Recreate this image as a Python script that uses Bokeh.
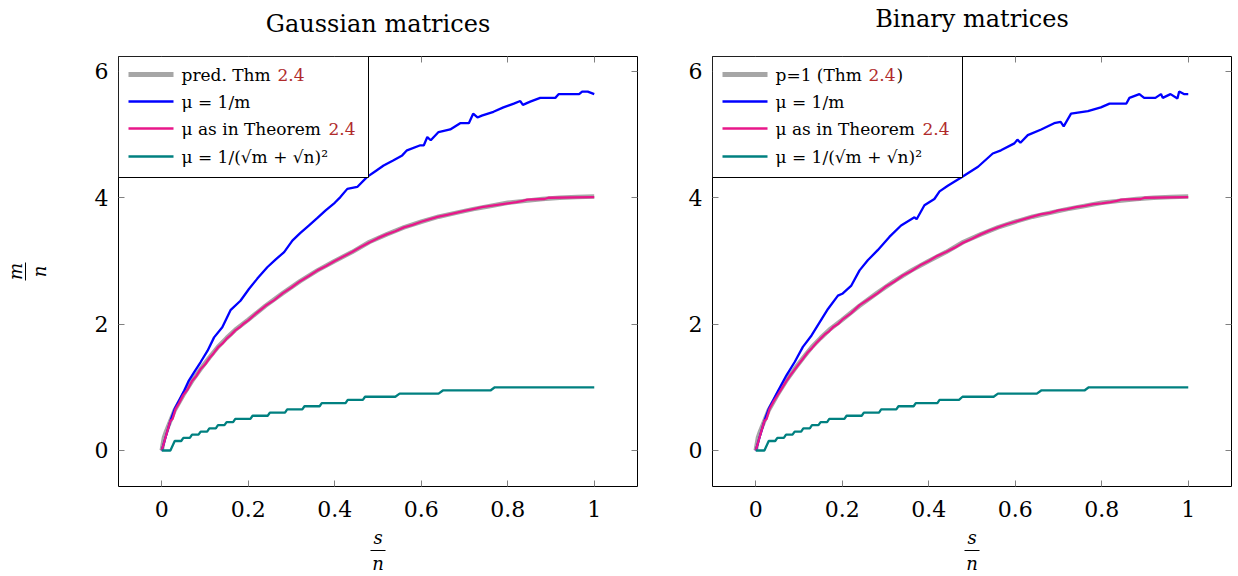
import math
from bokeh.plotting import figure
from bokeh.layouts import row
from bokeh.models import Range1d, LinearAxis, FixedTicker, Label, BoxAnnotation, CustomJSTickFormatter
from bokeh.embed import file_html
from bokeh.resources import INLINE

# ---------------- data ----------------
x_ticks = [0, 0.2, 0.4, 0.6, 0.8, 1]
y_ticks = [0, 2, 4, 6]

# predicted curve (Thm 2.4), same in both panels
pred_s = [0, 0.005, 0.01, 0.02, 0.03, 0.05, 0.07, 0.09, 0.11, 0.13, 0.15, 0.17, 0.2, 0.24, 0.28,
          0.32, 0.36, 0.4, 0.44, 0.48, 0.52, 0.56, 0.6, 0.64, 0.68, 0.72, 0.76, 0.8, 0.84, 0.88,
          0.92, 0.96, 1.0]
pred_m = [0, 0.2, 0.3, 0.47, 0.64, 0.88, 1.1, 1.29, 1.47, 1.64, 1.78, 1.91, 2.07, 2.29, 2.49,
          2.68, 2.85, 3.0, 3.14, 3.3, 3.42, 3.53, 3.62, 3.7, 3.76, 3.82, 3.87, 3.92, 3.95, 3.98,
          4.0, 4.01, 4.02]

# mu = 1/m
blue_gauss = [(0, 0), (0.02, 0.47), (0.03, 0.66), (0.04, 0.79), (0.052, 0.95), (0.063, 1.11),
              (0.075, 1.24), (0.09, 1.4), (0.106, 1.58), (0.121, 1.79), (0.14, 1.95), (0.159, 2.22),
              (0.182, 2.37), (0.202, 2.56), (0.221, 2.72), (0.244, 2.9), (0.263, 3.02), (0.283, 3.14),
              (0.302, 3.32), (0.32, 3.44), (0.34, 3.56), (0.36, 3.68), (0.379, 3.8), (0.4, 3.92),
              (0.413, 4.01), (0.429, 4.14), (0.452, 4.17), (0.475, 4.33), (0.494, 4.42), (0.513, 4.51),
              (0.535, 4.59), (0.556, 4.67), (0.567, 4.75), (0.598, 4.83), (0.606, 4.83), (0.614, 4.96),
              (0.622, 4.91), (0.64, 5.04), (0.667, 5.08), (0.69, 5.18), (0.71, 5.18), (0.72, 5.33),
              (0.73, 5.27), (0.74, 5.3), (0.767, 5.36), (0.79, 5.43), (0.814, 5.49), (0.829, 5.53),
              (0.835, 5.47), (0.852, 5.52), (0.875, 5.58), (0.91, 5.58), (0.918, 5.64), (0.965, 5.64),
              (0.972, 5.68), (0.985, 5.68), (1.0, 5.64)]
blue_binary = [(0, 0), (0.02, 0.47), (0.03, 0.66), (0.04, 0.79), (0.052, 0.95), (0.071, 1.19),
               (0.09, 1.4), (0.109, 1.64), (0.129, 1.82), (0.148, 2.03), (0.167, 2.24), (0.19, 2.45),
               (0.2, 2.48), (0.221, 2.61), (0.24, 2.85), (0.259, 3.01), (0.282, 3.17), (0.309, 3.38),
               (0.336, 3.56), (0.367, 3.69), (0.372, 3.66), (0.39, 3.88), (0.413, 3.98), (0.425, 4.1),
               (0.444, 4.19), (0.475, 4.32), (0.514, 4.49), (0.548, 4.7), (0.567, 4.75), (0.598, 4.86),
               (0.605, 4.92), (0.612, 4.87), (0.629, 4.99), (0.66, 5.08), (0.69, 5.18), (0.705, 5.2),
               (0.712, 5.13), (0.729, 5.33), (0.768, 5.37), (0.798, 5.43), (0.818, 5.49), (0.857, 5.49),
               (0.864, 5.58), (0.887, 5.64), (0.898, 5.58), (0.924, 5.58), (0.937, 5.64), (0.941, 5.58),
               (0.959, 5.64), (0.975, 5.57), (0.979, 5.68), (0.99, 5.64), (1.0, 5.64)]

# mu as in Theorem 2.4
pink_gauss = [(0, 0), (0.02, 0.47), (0.025, 0.5), (0.032, 0.66), (0.04, 0.75), (0.05, 0.88),
              (0.06, 0.97), (0.07, 1.1), (0.08, 1.18), (0.09, 1.29), (0.1, 1.36), (0.11, 1.46),
              (0.12, 1.54), (0.13, 1.63), (0.14, 1.69), (0.15, 1.77), (0.16, 1.83), (0.17, 1.9),
              (0.18, 1.95), (0.19, 2.01), (0.2, 2.06), (0.22, 2.18), (0.24, 2.29), (0.26, 2.38),
              (0.28, 2.49), (0.3, 2.58), (0.32, 2.68), (0.34, 2.76), (0.36, 2.85), (0.38, 2.92),
              (0.4, 3.0), (0.42, 3.07), (0.44, 3.14), (0.46, 3.22), (0.48, 3.29), (0.5, 3.36),
              (0.52, 3.42), (0.54, 3.47), (0.56, 3.53), (0.58, 3.57), (0.6, 3.62), (0.62, 3.66),
              (0.64, 3.7), (0.66, 3.73), (0.68, 3.76), (0.7, 3.79), (0.72, 3.82), (0.74, 3.85),
              (0.76, 3.87), (0.78, 3.89), (0.8, 3.91), (0.82, 3.93), (0.835, 3.95), (0.845, 3.97),
              (0.885, 3.98), (0.895, 4.0), (1.0, 4.01)]
pink_binary = [(0, 0), (0.02, 0.47), (0.025, 0.5), (0.032, 0.66), (0.04, 0.76), (0.05, 0.87),
               (0.06, 0.98), (0.07, 1.09), (0.08, 1.19), (0.09, 1.28), (0.1, 1.37), (0.11, 1.46),
               (0.12, 1.55), (0.13, 1.62), (0.14, 1.7), (0.15, 1.77), (0.16, 1.84), (0.17, 1.89),
               (0.18, 1.96), (0.19, 2.0), (0.2, 2.07), (0.22, 2.17), (0.24, 2.3), (0.26, 2.39),
               (0.28, 2.48), (0.3, 2.59), (0.32, 2.67), (0.34, 2.77), (0.36, 2.84), (0.38, 2.93),
               (0.4, 3.0), (0.42, 3.08), (0.44, 3.14), (0.46, 3.21), (0.48, 3.29), (0.5, 3.35),
               (0.52, 3.42), (0.54, 3.48), (0.56, 3.53), (0.58, 3.58), (0.6, 3.62), (0.62, 3.66),
               (0.64, 3.7), (0.66, 3.74), (0.68, 3.76), (0.7, 3.8), (0.72, 3.82), (0.74, 3.85),
               (0.76, 3.87), (0.78, 3.9), (0.8, 3.91), (0.82, 3.93), (0.835, 3.95), (0.845, 3.97),
               (0.89, 3.98), (0.9, 4.0), (1.0, 4.01)]

# mu = 1/(sqrt(m)+sqrt(n))^2
teal_gauss = [(0, 0), (0.02, 0), (0.03, 0.15), (0.045, 0.15), (0.05, 0.2), (0.065, 0.2), (0.07, 0.25),
              (0.085, 0.25), (0.09, 0.3), (0.105, 0.3), (0.11, 0.35), (0.125, 0.35), (0.13, 0.4),
              (0.145, 0.4), (0.15, 0.45), (0.165, 0.45), (0.17, 0.5), (0.205, 0.5), (0.21, 0.55),
              (0.245, 0.55), (0.25, 0.6), (0.285, 0.6), (0.29, 0.65), (0.325, 0.65), (0.33, 0.7),
              (0.365, 0.7), (0.37, 0.75), (0.425, 0.75), (0.43, 0.8), (0.465, 0.8), (0.47, 0.85),
              (0.54, 0.85), (0.55, 0.9), (0.64, 0.9), (0.65, 0.95), (0.76, 0.95), (0.77, 1.0), (1.0, 1.0)]
teal_binary = [(0, 0), (0.02, 0), (0.03, 0.15), (0.045, 0.15), (0.05, 0.2), (0.065, 0.2), (0.07, 0.25),
               (0.085, 0.25), (0.09, 0.3), (0.105, 0.3), (0.11, 0.35), (0.125, 0.35), (0.13, 0.4),
               (0.145, 0.4), (0.15, 0.45), (0.165, 0.45), (0.17, 0.5), (0.205, 0.5), (0.21, 0.55),
               (0.245, 0.55), (0.25, 0.6), (0.285, 0.6), (0.29, 0.65), (0.325, 0.65), (0.33, 0.7),
               (0.365, 0.7), (0.37, 0.75), (0.42, 0.75), (0.425, 0.8), (0.47, 0.8), (0.478, 0.85),
               (0.55, 0.85), (0.56, 0.9), (0.65, 0.9), (0.66, 0.95), (0.76, 0.95), (0.77, 1.0), (1.0, 1.0)]

titles = ["Gaussian matrices", "Binary matrices"]

# ---------------- styling ----------------
FONT = "DejaVu Serif"
C_GRAY = "#a6a6a6"
C_BLUE = "#0000ff"
C_PINK = "#e8178a"
C_TEAL = "#008080"
C_REF = "#b02a2a"
FRAME_H = 430


def lab(p, x, y, text, size, color="black", style="normal"):
    p.add_layout(Label(x=x, y=y, x_units="screen", y_units="screen", text=text, text_font=FONT,
                       text_font_size=f"{size}px", text_color=color, text_font_style=style,
                       text_align="left", text_baseline="middle", level="overlay"))


def box(p, l, r, b, t, fill, line=None, level="overlay"):
    p.add_layout(BoxAnnotation(left=l, right=r, bottom=b, top=t,
                               left_units="screen", right_units="screen",
                               bottom_units="screen", top_units="screen",
                               fill_color=fill, fill_alpha=1.0,
                               line_color=line if line else fill, line_alpha=1.0 if line else 0.0,
                               line_width=1, level=level))


def bar_axis(bounds, text, standoff):
    return LinearAxis(ticker=FixedTicker(ticks=[]), bounds=bounds, axis_line_color="black",
                      axis_line_width=1, major_tick_line_color=None, minor_tick_line_color=None,
                      major_tick_in=0, major_tick_out=0, major_label_standoff=0,
                      major_label_text_font_size="1px", axis_label=text, axis_label_standoff=standoff,
                      axis_label_text_font=FONT, axis_label_text_font_size="18px",
                      axis_label_text_font_style="italic", axis_label_text_color="black")


def make_panel(width, bl, br, title, title_standoff, blue, pink, teal, binary, ylabel):
    p = figure(width=width, height=576, output_backend="svg", toolbar_location=None, title=None,
               x_range=Range1d(-0.1, 1.1), y_range=Range1d(-0.57, 6.235),
               min_border_left=bl, min_border_right=br, min_border_top=56, min_border_bottom=90)
    p.xgrid.visible = False
    p.ygrid.visible = False
    p.outline_line_color = "black"
    p.outline_line_width = 1
    p.outline_line_alpha = 1.0
    p.background_fill_color = "white"
    p.border_fill_color = "white"

    fmt = CustomJSTickFormatter(code="return tick.toString()")
    blank = CustomJSTickFormatter(code="return ''")
    for ax, ticks in ((p.xaxis[0], x_ticks), (p.yaxis[0], y_ticks)):
        ax.ticker = FixedTicker(ticks=ticks)
        ax.formatter = fmt
        ax.axis_line_color = None
        ax.major_tick_in = 6
        ax.major_tick_out = 0
        ax.major_tick_line_color = "#808080"
        ax.minor_tick_line_color = None
        ax.major_label_text_font = FONT
        ax.major_label_text_font_size = "22px"
        ax.major_label_text_color = "black"
        ax.axis_label_text_font = FONT
        ax.axis_label_text_font_size = "18px"
        ax.axis_label_text_font_style = "italic"
        ax.axis_label_text_color = "black"
    xa = p.xaxis[0]
    xa.major_label_standoff = 14
    xa.axis_label = "s"
    xa.axis_label_standoff = 7
    ya = p.yaxis[0]
    ya.major_label_standoff = 10

    # fraction bar + denominator below the x axis
    p.add_layout(bar_axis((0.483, 0.517), "n", 2), "below")

    if ylabel:
        ya.axis_label = "n"
        ya.axis_label_standoff = 42
        p.add_layout(bar_axis((2.69, 2.975), "m", 0), "left")

    # mirrored ticks on top (carrying the panel title) and right
    top = LinearAxis(ticker=FixedTicker(ticks=x_ticks), formatter=blank, axis_line_color=None,
                     major_tick_in=6, major_tick_out=0, major_tick_line_color="#808080",
                     minor_tick_line_color=None, major_label_standoff=0,
                     major_label_text_font_size="1px",
                     axis_label=title, axis_label_standoff=title_standoff,
                     axis_label_text_font=FONT, axis_label_text_font_size="24px",
                     axis_label_text_font_style="normal", axis_label_text_color="black")
    right = LinearAxis(ticker=FixedTicker(ticks=y_ticks), formatter=blank, axis_line_color=None,
                       major_tick_in=6, major_tick_out=0, major_tick_line_color="#808080",
                       minor_tick_line_color=None, major_label_standoff=0,
                       major_label_text_font_size="1px")
    p.add_layout(top, "above")
    p.add_layout(right, "right")

    p.line(pred_s, pred_m, line_color=C_GRAY, line_width=4.5)
    p.line([a for a, _ in blue], [b for _, b in blue], line_color=C_BLUE, line_width=2.3)
    p.line([a for a, _ in pink], [b for _, b in pink], line_color=C_PINK, line_width=2.3)
    p.line([a for a, _ in teal], [b for _, b in teal], line_color=C_TEAL, line_width=2.3)

    # legend (drawn by hand so that the theorem reference can be coloured)
    box(p, 0, 250, FRAME_H - 121, FRAME_H, "white", line="black", level="annotation")
    rows_y = [412, 385, 358, 330]
    box(p, 10, 55, rows_y[0] - 2.5, rows_y[0] + 2.5, C_GRAY)
    box(p, 10, 55, rows_y[1] - 1.2, rows_y[1] + 1.2, C_BLUE)
    box(p, 10, 55, rows_y[2] - 1.2, rows_y[2] + 1.2, C_PINK)
    box(p, 10, 55, rows_y[3] - 1.2, rows_y[3] + 1.2, C_TEAL)
    tx = 63
    if binary:
        lab(p, tx, rows_y[0], "p=1 (Thm", 17)
        lab(p, tx + 93, rows_y[0], "2.4", 17, color=C_REF)
        lab(p, tx + 121, rows_y[0], ")", 17)
    else:
        lab(p, tx, rows_y[0], "pred. Thm", 17)
        lab(p, tx + 96, rows_y[0], "2.4", 17, color=C_REF)
    lab(p, tx, rows_y[1], "μ = 1/m", 17)
    lab(p, tx, rows_y[2], "μ as in Theorem", 17)
    lab(p, tx + 147, rows_y[2], "2.4", 17, color=C_REF)
    lab(p, tx, rows_y[3], "μ = 1/(√m + √n)²", 17)
    return p


p1 = make_panel(655, 118, 18, titles[0], 19, blue_gauss, pink_gauss, teal_gauss, False, True)
p2 = make_panel(583, 57, 7, titles[1], 24, blue_binary, pink_binary, teal_binary, True, False)

layout = row(p1, p2)
open("out.html", "w").write(file_html(layout, INLINE))
